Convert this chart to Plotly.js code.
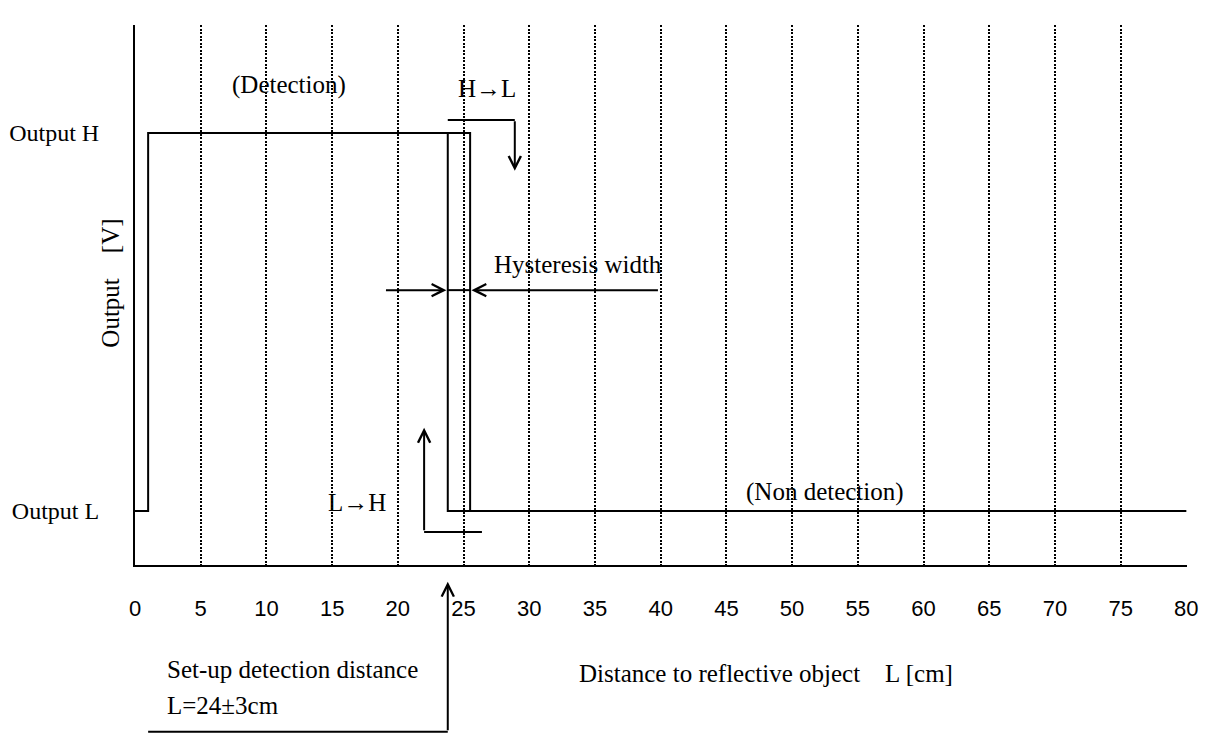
<!DOCTYPE html>
<html>
<head>
<meta charset="utf-8">
<script src="https://cdn.plot.ly/plotly-3.0.1.min.js"></script>
<style>html,body{margin:0;padding:0;background:#fff;}</style>
</head>
<body>
<div id="chart" style="width:1213px;height:733px;"></div>
<script>
// ---- data ----
const xTicks = [0, 5, 10, 15, 20, 25, 30, 35, 40, 45, 50, 55, 60, 65, 70, 75, 80];
const xTickLabels = xTicks.map(String);
const outputL = 1;
const outputH = 8;
const yTickVals = [outputL, outputH];
const yTickLabels = ["Output L", "Output H"];
// H->L path (object moving away): high until 25.5 cm, then drops to low
const pathHtoL_x = [0, 1, 1, 25.5, 25.5, 80];
const pathHtoL_y = [outputL, outputL, outputH, outputH, outputL, outputL];
// L->H path (object approaching): low until 23.8 cm, then rises to high
const pathLtoH_x = [25.5, 23.8, 23.8];
const pathLtoH_y = [outputL, outputL, outputH];

const serif = "Liberation Serif, Times New Roman, serif";
const sans = "Liberation Sans, Arial, sans-serif";
const black = "#000";

const traces = [
  {x: pathHtoL_x, y: pathHtoL_y, mode: "lines", line: {color: black, width: 2}, hoverinfo: "skip", showlegend: false},
  {x: pathLtoH_x, y: pathLtoH_y, mode: "lines", line: {color: black, width: 2}, hoverinfo: "skip", showlegend: false}
];

function txt(text, x, y, opts) {
  return Object.assign({text: text, x: x, y: y, xref: "x", yref: "y", showarrow: false,
    font: {family: serif, size: 25, color: black}}, opts || {});
}
function arrow(x, y, ax, ay, yref) {
  return {text: "", x: x, y: y, xref: "x", yref: yref || "y", ax: ax, ay: ay,
    showarrow: true, arrowhead: 5, arrowsize: 1.2, arrowwidth: 2, arrowcolor: black, standoff: 0};
}

const annotations = [
  txt("(Detection)", 11.7, 8.89),
  txt("H\u2192L", 26.8, 8.83),
  txt("Hysteresis width", 33.7, 5.56),
  txt("L\u2192H", 16.9, 1.15),
  txt("(Non detection)", 52.5, 1.35),
  txt("Set-up detection distance", 2.28, -0.222, {yref: "paper", xanchor: "left"}),
  txt("L=24\u00b13cm", 2.28, -0.289, {yref: "paper", xanchor: "left"}),
  txt("Distance to reflective object\u00a0\u00a0\u00a0\u00a0L [cm]", 0.6, -0.229, {xref: "paper", yref: "paper"}),
  txt("Output\u00a0\u00a0\u00a0\u00a0[V]", -0.038, 0.522, {xref: "paper", yref: "paper", textangle: -90}),
  // H->L down arrow
  arrow(28.9, 7.30, 0, -51),
  // L->H up arrow
  arrow(22.0, 2.54, 0, 104),
  // hysteresis arrows
  arrow(23.7, 5.09, -62, 0),
  arrow(25.6, 5.09, 188, 0),
  // set-up detection distance arrow
  arrow(23.8, -0.031, 0, 150, "paper")
];

const shapes = [
  {type: "line", xref: "x", yref: "y", x0: 23.8, x1: 28.9, y0: 8.24, y1: 8.24, line: {color: black, width: 2}},
  {type: "line", xref: "x", yref: "y", x0: 22.0, x1: 26.4, y0: 0.61, y1: 0.61, line: {color: black, width: 2}},
  {type: "line", xref: "x", yref: "y", x0: 23.8, x1: 25.5, y0: 5.09, y1: 5.09, line: {color: black, width: 2}},
  {type: "line", xref: "x", yref: "paper", x0: 1.0, x1: 23.8, y0: -0.309, y1: -0.309, line: {color: black, width: 2}}
];

const layout = {
  width: 1213, height: 733,
  margin: {l: 135, r: 26, t: 25, b: 168},
  paper_bgcolor: "#fff", plot_bgcolor: "#fff",
  showlegend: false,
  xaxis: {
    range: [0, 80.05], tickvals: xTicks, ticktext: xTickLabels,
    showline: true, linecolor: black, linewidth: 2,
    showgrid: true, gridcolor: black, gridwidth: 2, griddash: "2px,1.5px",
    zeroline: false, ticks: "", ticklabelstandoff: 23,
    tickfont: {family: sans, size: 22, color: black}, fixedrange: true
  },
  yaxis: {
    range: [0, 10], tickvals: yTickVals, ticktext: yTickLabels,
    showline: true, linecolor: black, linewidth: 2,
    showgrid: false, zeroline: false, ticks: "", ticklabelstandoff: 29,
    tickfont: {family: serif, size: 24, color: black}, fixedrange: true
  },
  shapes: shapes,
  annotations: annotations
};

Plotly.newPlot("chart", traces, layout, {displayModeBar: false, staticPlot: true});
</script>
</body>
</html>
